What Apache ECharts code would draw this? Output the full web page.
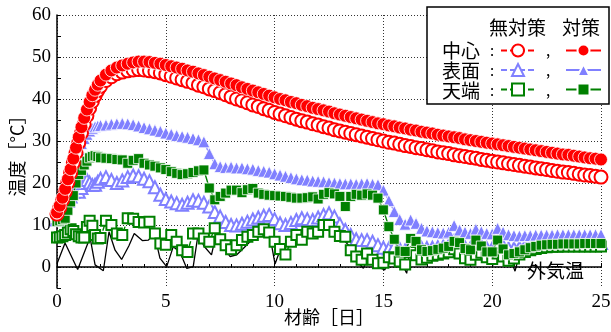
<!DOCTYPE html>
<html>
<head>
<meta charset="utf-8">
<script src="https://cdn.jsdelivr.net/npm/echarts@6.0.0/dist/echarts.min.js"></script>
<style>
  html, body { margin: 0; padding: 0; background: #fff; }
  #chart { width: 611px; height: 332px; }
</style>
</head>
<body>
<div id="chart"></div>
<script>
// Age of concrete in days (3-hourly for the first two days, 6-hourly afterwards)
const days = [0,0.125,0.25,0.375,0.5,0.625,0.75,0.875,1,1.125,1.25,1.375,1.5,1.625,1.75,1.875,2,
  2.25,2.5,2.75,3,3.25,3.5,3.75,4,4.25,4.5,4.75,5,
  5.25,5.5,5.75,6,6.25,6.5,6.75,7,7.25,7.5,7.75,8,8.25,8.5,8.75,9,9.25,9.5,9.75,10,
  10.25,10.5,10.75,11,11.25,11.5,11.75,12,12.25,12.5,12.75,13,13.25,13.5,13.75,14,14.25,14.5,14.75,15,
  15.25,15.5,15.75,16,16.25,16.5,16.75,17,17.25,17.5,17.75,18,18.25,18.5,18.75,19,19.25,19.5,19.75,20,
  20.25,20.5,20.75,21,21.25,21.5,21.75,22,22.25,22.5,22.75,23,23.25,23.5,23.75,24,24.25,24.5,24.75,25];

// 中心 (core) temperature
const centerNone = [12.6,14.1,15.9,17.9,20.1,22.4,24.8,27.2,29.6,31.9,34.0,36.0,37.8,39.4,40.8,42.0,43.0,
  44.4,45.3,46.0,46.4,46.7,46.9,47.0,46.9,46.7,46.5,46.2,45.8,
  45.4,45.0,44.6,44.2,43.8,43.3,42.9,42.4,42.0,41.5,41.0,40.5,40.0,39.6,39.1,38.6,38.2,37.7,37.3,36.8,
  36.4,36.0,35.6,35.2,34.8,34.5,34.1,33.8,33.4,33.1,32.7,32.4,32.1,31.8,31.5,31.2,30.9,30.6,30.3,30.0,
  29.7,29.5,29.2,28.9,28.7,28.4,28.2,27.9,27.7,27.4,27.2,27.0,26.7,26.5,26.3,26.1,25.9,25.6,25.4,25.2,
  25.0,24.8,24.6,24.4,24.2,24.0,23.8,23.6,23.4,23.2,23.0,22.8,22.6,22.5,22.3,22.1,21.9,21.8,21.6,21.4];
const centerCured = [13.0,14.6,16.5,18.6,20.9,23.3,25.8,28.4,30.9,33.3,35.5,37.5,39.3,40.9,42.2,43.4,44.4,
  45.8,46.8,47.5,48.0,48.4,48.7,48.9,48.9,48.8,48.6,48.4,48.1,
  47.8,47.5,47.2,46.8,46.5,46.1,45.7,45.3,44.9,44.5,44.1,43.7,43.3,42.8,42.4,42.0,41.6,41.2,40.8,40.4,
  40.0,39.7,39.3,39.0,38.6,38.3,37.9,37.6,37.3,37.0,36.6,36.3,36.0,35.7,35.4,35.1,34.8,34.5,34.2,34.0,
  33.7,33.5,33.2,33.0,32.7,32.5,32.2,32.0,31.8,31.5,31.3,31.1,30.9,30.7,30.4,30.2,30.0,29.8,29.6,29.4,
  29.2,29.0,28.8,28.6,28.4,28.2,28.0,27.8,27.6,27.4,27.2,27.0,26.8,26.7,26.5,26.3,26.1,25.9,25.8,25.6];

// 表面 (surface) temperature
const surfaceNone = [11.3,12.3,13.5,14.6,15.7,16.8,17.9,18.3,17.9,18.8,20.0,20.7,20.1,19.5,19.6,20.3,21.0,
  21.4,20.7,20.0,20.6,21.4,21.8,21.6,21.0,20.4,19.0,17.2,16.2,
  15.6,15.2,14.8,15.3,15.9,15.8,15.3,14.4,13.1,12.0,10.7,10.0,9.9,10.3,10.8,11.3,11.8,12.2,12.4,11.4,
  10.4,10.0,10.5,11.2,11.6,11.4,11.2,11.8,12.4,12.8,12.0,10.2,8.8,7.6,6.6,6.4,6.4,6.0,5.2,4.6,
  4.4,4.8,4.3,4.0,5.8,5.4,4.6,4.5,4.6,4.7,4.9,5.1,6.2,5.4,4.7,4.5,5.8,5.1,4.5,4.4,
  5.9,5.0,4.4,4.4,4.6,4.9,5.1,5.3,5.4,5.5,5.5,5.6,5.6,5.6,5.6,5.6,5.6,5.6,5.7,5.7];
const surfaceCured = [12.0,13.5,15.2,17.2,19.4,21.8,24.2,26.4,28.0,29.4,30.6,31.6,32.4,33.0,33.4,33.6,33.7,
  33.8,34.0,34.1,34.2,34.1,33.9,33.6,33.2,32.9,32.6,32.3,31.9,
  31.6,31.3,31.1,30.9,30.6,30.3,29.8,27.0,24.6,23.9,23.7,23.8,23.6,23.6,23.4,23.3,23.0,22.8,22.6,22.2,
  21.9,21.6,21.3,21.0,20.8,20.7,20.5,20.4,20.3,20.1,20.0,19.9,19.8,19.8,19.7,19.8,19.9,19.7,19.6,18.3,
  15.8,13.2,11.3,10.2,11.2,10.4,9.2,8.6,8.4,8.2,8.1,8.3,9.9,8.8,8.3,8.0,9.0,8.4,8.0,7.9,
  9.2,8.3,7.7,7.5,7.4,7.5,7.5,7.6,7.6,7.6,7.6,7.7,7.7,7.7,7.7,7.7,7.7,7.7,7.7,7.7];

// 天端 (top face) temperature
const topNone = [7.0,7.1,7.3,7.6,8.2,9.0,8.6,7.8,7.3,7.0,7.0,9.5,11.0,9.8,7.6,6.8,6.9,
  11.0,10.0,8.0,7.6,11.6,11.5,10.7,10.6,10.8,8.0,5.6,5.3,
  7.6,6.0,4.0,3.6,8.0,8.0,6.8,6.0,9.2,6.6,5.2,4.2,5.2,6.4,7.2,7.6,8.4,9.0,8.2,6.0,
  4.3,3.0,6.0,7.6,6.5,8.4,8.0,8.4,10.0,10.0,8.4,7.4,7.2,4.0,2.5,1.7,3.2,1.7,0.9,1.0,
  2.3,2.0,1.3,0.6,3.6,2.8,1.8,2.2,2.7,2.9,3.2,3.5,4.2,3.2,2.1,1.7,2.9,3.4,2.3,1.9,
  3.2,2.5,1.5,2.0,3.0,3.6,4.0,4.3,4.5,4.7,4.8,4.8,4.9,4.9,4.9,4.9,4.9,4.9,4.9,4.9];
const topCured = [10.8,11.0,11.3,11.6,13.5,15.5,17.0,20.0,22.0,23.0,24.3,25.2,26.0,26.3,26.5,26.3,26.0,
  25.9,25.8,25.6,25.5,24.7,25.4,25.8,24.7,24.3,24.0,23.6,23.2,
  22.7,22.3,22.0,22.2,22.5,22.9,23.1,18.8,16.0,16.8,17.6,18.3,18.3,17.7,18.4,18.7,17.6,17.3,17.1,17.0,
  16.9,16.8,16.6,16.4,16.4,16.5,16.7,16.2,17.3,17.7,17.4,16.8,14.4,16.8,17.3,17.1,17.4,17.1,16.4,13.6,
  9.6,6.6,3.8,3.7,6.8,6.1,4.1,3.7,3.9,4.2,4.5,4.9,6.1,5.8,4.4,4.1,6.4,5.0,3.6,3.6,
  6.4,4.3,2.9,3.2,3.6,4.1,4.6,4.9,5.2,5.3,5.4,5.4,5.5,5.5,5.5,5.5,5.6,5.6,5.6,5.6];

// 外気温 (outdoor air temperature)
const airDays = [0,0.37,0.95,1.52,1.75,2.13,2.39,2.67,2.97,3.3,3.55,3.92,4.2,4.47,4.73,5.04,5.34,5.65,5.96,6.26,
  6.49,6.75,7.1,7.34,7.64,7.95,8.26,8.56,8.9,9.25,9.56,9.75,10.02,10.25,10.48,10.7,10.95,11.17,11.5,11.8,
  12.09,12.4,12.7,13.0,13.47,13.7,14.08,14.3,14.7,15.07,15.22,15.5,15.76,16.07,16.22,16.5,16.76,17.1,17.45,17.83,
  18.2,18.5,18.83,18.98,19.3,19.6,19.9,20.05,20.3,20.6,20.8,21.05,21.28,21.5,22,23,24,25];
const airTemp = [0.8,5.7,-0.6,7.0,0.5,-0.9,8.4,4.0,1.8,5.0,8.0,6.3,6.4,8.0,2.1,0.1,4.8,3.6,-0.3,0.1,
  8.0,5.0,2.9,8.4,4.8,2.5,2.9,4.4,6.2,7.8,8.8,8.4,0.7,4.0,5.6,6.4,6.4,6.0,7.0,7.8,
  8.8,8.8,8.4,7.4,4.8,1.7,-0.3,2.1,0.1,-0.7,2.9,2.5,1.7,-1.5,4.0,2.8,1.7,2.0,2.7,3.6,
  3.0,2.6,2.1,1.3,2.5,2.0,0.9,0.5,2.7,2.0,2.5,-1.0,3.6,4.5,4.8,5.0,5.0,5.0];

// Axis ticks
const xTicks = [0, 5, 10, 15, 20, 25];
const yTicks = [0, 10, 20, 30, 40, 50, 60];

const RED = '#ff0000';
const BLUE = '#8080ff';
const GREEN = '#008000';
const JP = '"Noto Sans CJK JP"';

const pairs = (xs, ys) => xs.map((x, i) => [x, ys[i]]);

function tempSeries(name, values, symbol, size, color, filled, z) {
  return {
    name: name,
    type: 'line',
    data: pairs(days, values),
    symbol: symbol,
    symbolSize: size,
    z: z,
    itemStyle: filled
      ? { color: color, borderColor: '#fff', borderWidth: 0.8 }
      : { color: color, borderColor: color, borderWidth: 1.4 },
    lineStyle: { color: color, width: 1.4, type: filled ? 'solid' : [6, 3] },
    emphasis: { disabled: true },
    silent: true
  };
}

const chart = echarts.init(document.getElementById('chart'), null, { renderer: 'canvas' });

const legendCommon = {
  orient: 'vertical',
  top: 43,
  itemHeight: 15,
  itemGap: 5,
  padding: 0,
  selectedMode: false,
  formatter: () => '',
  z: 20
};

chart.setOption({
  animation: false,
  backgroundColor: '#fff',
  grid: { left: 57, right: 10, top: 15, bottom: 44, containLabel: false, outerBoundsMode: 'none' },
  xAxis: {
    type: 'value',
    min: xTicks[0],
    max: xTicks[xTicks.length - 1],
    interval: xTicks[1] - xTicks[0],
    name: '材齢［日］',
    nameLocation: 'middle',
    nameGap: 20,
    nameMoveOverlap: false,
    nameTextStyle: { fontFamily: JP, fontSize: 18, color: '#000' },
    axisLine: { lineStyle: { color: '#000', width: 1.5 } },
    axisTick: { inside: true, length: 4, lineStyle: { color: '#000' } },
    minorTick: { show: true, splitNumber: 5, length: 3, lineStyle: { color: '#000' } },
    splitLine: { show: true, lineStyle: { color: '#333', type: [1, 2], width: 1 } },
    axisLabel: { color: '#000', fontFamily: '"Liberation Serif"', fontSize: 19, margin: 5 }
  },
  yAxis: {
    type: 'value',
    min: -5,
    max: yTicks[yTicks.length - 1],
    interval: 5,
    name: '温度［°C］',
    nameLocation: 'middle',
    nameRotate: 90,
    nameGap: 31,
    nameMoveOverlap: false,
    nameTextStyle: { fontFamily: JP, fontSize: 18, color: '#000' },
    axisLine: { show: true, lineStyle: { color: '#000', width: 1.5 } },
    axisTick: { show: true, inside: true, length: 4, lineStyle: { color: '#000' } },
    // grid lines only on the labelled (multiple of 10) ticks
    splitLine: { show: true, lineStyle: { color: ['rgba(0,0,0,0)', '#333'], type: [1, 2], width: 1 } },
    axisLabel: {
      color: '#000', fontFamily: '"Liberation Serif"', fontSize: 19, margin: 6,
      formatter: v => (yTicks.indexOf(v) >= 0 ? String(v) : '')
    }
  },
  legend: [
    Object.assign({ left: 500, itemWidth: 34, data: ['無対策 中心', '無対策 表面', '無対策 天端'] }, legendCommon),
    Object.assign({ left: 565, itemWidth: 35, data: ['対策 中心', '対策 表面', '対策 天端'] }, legendCommon)
  ],
  series: [
    {
      name: '外気温',
      type: 'line',
      data: pairs(airDays, airTemp),
      symbol: 'none',
      z: 2,
      lineStyle: { color: '#000', width: 1.3 },
      emphasis: { disabled: true },
      silent: true
    },
    tempSeries('無対策 表面', surfaceNone, 'emptyTriangle', 12, BLUE, false, 3),
    tempSeries('対策 表面', surfaceCured, 'triangle', 12, BLUE, true, 4),
    tempSeries('無対策 天端', topNone, 'emptyRect', 10, GREEN, false, 5),
    tempSeries('対策 天端', topCured, 'rect', 10, GREEN, true, 6),
    tempSeries('無対策 中心', centerNone, 'emptyCircle', 13, RED, false, 7),
    tempSeries('対策 中心', centerCured, 'circle', 13, RED, true, 8)
  ],
  graphic: {
    elements: [
      { type: 'rect', z: 15, shape: { x: 427, y: 7, width: 182, height: 97 },
        style: { fill: '#fff', stroke: '#000', lineWidth: 1.5 } },
      { type: 'text', z: 20, x: 517.5, y: 27.5, style: { text: '無対策', font: '19px ' + JP, fill: '#000', align: 'center', verticalAlign: 'middle' } },
      { type: 'text', z: 20, x: 581, y: 27.5, style: { text: '対策', font: '19px ' + JP, fill: '#000', align: 'center', verticalAlign: 'middle' } },
      { type: 'text', z: 20, x: 461, y: 50.5, style: { text: '中心', font: '19px ' + JP, fill: '#000', align: 'center', verticalAlign: 'middle' } },
      { type: 'text', z: 20, x: 461, y: 70.5, style: { text: '表面', font: '19px ' + JP, fill: '#000', align: 'center', verticalAlign: 'middle' } },
      { type: 'text', z: 20, x: 461, y: 90.5, style: { text: '天端', font: '19px ' + JP, fill: '#000', align: 'center', verticalAlign: 'middle' } },
      { type: 'text', z: 20, x: 492, y: 50.5, style: { text: ':', font: '15px ' + JP, fill: '#000', align: 'center', verticalAlign: 'middle' } },
      { type: 'text', z: 20, x: 492, y: 70.5, style: { text: ':', font: '15px ' + JP, fill: '#000', align: 'center', verticalAlign: 'middle' } },
      { type: 'text', z: 20, x: 492, y: 90.5, style: { text: ':', font: '15px ' + JP, fill: '#000', align: 'center', verticalAlign: 'middle' } },
      { type: 'text', z: 20, x: 548, y: 50.5, style: { text: ',', font: '15px ' + JP, fill: '#000', align: 'center', verticalAlign: 'middle' } },
      { type: 'text', z: 20, x: 548, y: 70.5, style: { text: ',', font: '15px ' + JP, fill: '#000', align: 'center', verticalAlign: 'middle' } },
      { type: 'text', z: 20, x: 548, y: 90.5, style: { text: ',', font: '15px ' + JP, fill: '#000', align: 'center', verticalAlign: 'middle' } },
      { type: 'text', z: 20, x: 527, y: 271, style: { text: '外気温', font: '19px ' + JP, fill: '#000', align: 'left', verticalAlign: 'middle' } }
    ]
  }
});
</script>
</body>
</html>
